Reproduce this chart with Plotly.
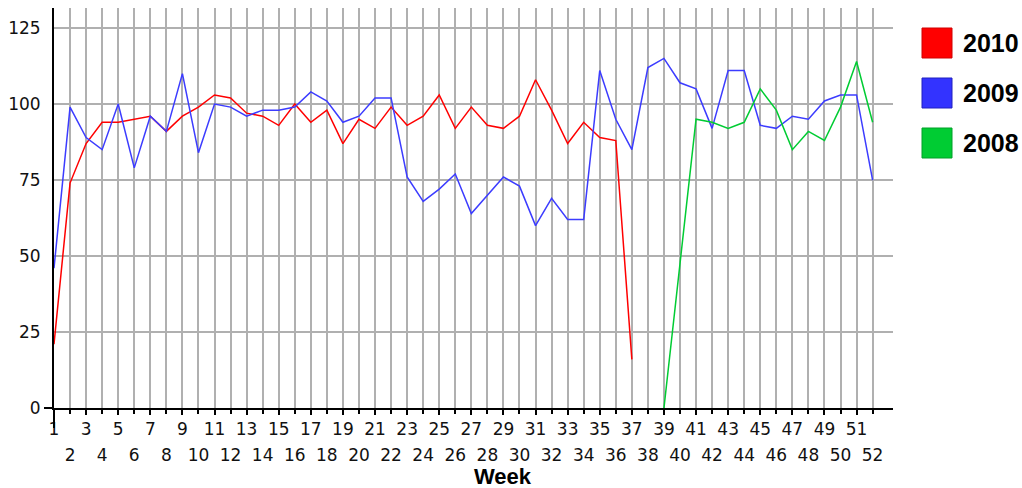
import plotly.graph_objects as go

weeks = list(range(1, 53))

sales_2010 = [21, 74, 87, 94, 94, 95, 96, 91, 96, 99, 103, 102, 97, 96, 93, 100, 94, 98,
              87, 95, 92, 99, 93, 96, 103, 92, 99, 93, 92, 96, 108, 98, 87, 94, 89, 88, 16] + [None] * 15

sales_2009 = [46, 99, 89, 85, 100, 79, 96, 91, 110, 84, 100, 99, 96, 98, 98, 99, 104, 101,
              94, 96, 102, 102, 76, 68, 72, 77, 64, 70, 76, 73, 60, 69, 62, 62, 111, 95, 85,
              112, 115, 107, 105, 92, 111, 111, 93, 92, 96, 95, 101, 103, 103, 75]

sales_2008 = [None] * 38 + [0, 48, 95, 94, 92, 94, 105, 98, 85, 91, 88, 99, 114, 94]

series_names = ["2010", "2009", "2008"]
series_colors = ["#FF0000", "#3C3CFF", "#00CC33"]
legend_colors = ["#FF0000", "#3333FF", "#00CC33"]
legend_borders = ["#D00000", "#2020C0", "#00A028"]

y_ticks = [0, 25, 50, 75, 100, 125]
odd_weeks = [w for w in weeks if w % 2 == 1]
even_weeks = [w for w in weeks if w % 2 == 0]

W_FIG, H_FIG = 1022, 488
PLOT_L, PLOT_R, PLOT_T, PLOT_B = 54, 893, 8, 408   # window pixels
L, T = PLOT_L, PLOT_T
R = W_FIG - PLOT_R
B = H_FIG - PLOT_B
PW = PLOT_R - PLOT_L
PH = PLOT_B - PLOT_T


def px(xpix):
    return (xpix - PLOT_L) / PW


def py(ypix):
    return (PLOT_B - ypix) / PH


X_RANGE = [1, 53.27]
Y_RANGE = [0, 131.6]
GRID = "#B0B0B0"
TICKFONT = dict(family="DejaVu Sans", size=17, color="#111111")

fig = go.Figure()
for name, vals, col in zip(series_names, [sales_2010, sales_2009, sales_2008], series_colors):
    fig.add_trace(go.Scatter(x=weeks, y=vals, name=name, mode="lines",
                             line=dict(color=col, width=1.5), connectgaps=False,
                             showlegend=False))

# invisible trace to activate the second (even-week) x axis
fig.add_trace(go.Scatter(x=[weeks[0]], y=[None], xaxis="x2", showlegend=False,
                         hoverinfo="skip", mode="lines"))

fig.update_layout(
    width=W_FIG, height=H_FIG,
    margin=dict(l=L, r=R, t=T, b=B, autoexpand=False),
    paper_bgcolor="white", plot_bgcolor="white",
    showlegend=False,
    xaxis=dict(range=X_RANGE, tickmode="array", tickvals=odd_weeks,
               ticktext=[str(w) for w in odd_weeks],
               showgrid=True, gridcolor=GRID, gridwidth=2,
               showline=True, linecolor="black", linewidth=2,
               ticks="outside", ticklen=5, tickcolor="black", tickwidth=2,
               tickfont=TICKFONT, zeroline=False, ticklabelstandoff=0,
               automargin=False),
    xaxis2=dict(range=X_RANGE, overlaying="x", anchor="y", side="bottom",
                tickmode="array", tickvals=even_weeks,
                ticktext=[str(w) for w in even_weeks],
                showgrid=True, gridcolor=GRID, gridwidth=2,
                showline=False, ticks="outside", ticklen=5, tickcolor="black", tickwidth=2,
                tickfont=TICKFONT, zeroline=False, ticklabelstandoff=27,
                automargin=False),
    yaxis=dict(range=Y_RANGE, tickmode="array", tickvals=y_ticks,
               ticktext=[str(v) for v in y_ticks],
               showgrid=True, gridcolor=GRID, gridwidth=2,
               showline=True, linecolor="black", linewidth=2,
               ticks="", tickfont=TICKFONT, zeroline=False, ticklabelstandoff=8,
               automargin=False),
)

# small axis-line overshoots seen in the reference
fig.add_shape(type="line", xref="paper", yref="paper", x0=px(44), x1=px(54),
              y0=0, y1=0, line=dict(color="black", width=2))
fig.add_shape(type="line", xref="paper", yref="paper", x0=0, x1=0,
              y0=py(428), y1=0, line=dict(color="black", width=2))

# x-axis title
fig.add_annotation(text="<b>Week</b>", xref="paper", yref="paper",
                   x=px(503), y=py(476), xanchor="center", yanchor="middle",
                   showarrow=False,
                   font=dict(family="Liberation Sans, Arial", size=22, color="black"))

# manual legend with large square keys
for i, (name, col, bcol) in enumerate(zip(series_names, legend_colors, legend_borders)):
    top = 28 + 50 * i
    fig.add_shape(type="rect", xref="paper", yref="paper",
                  x0=px(922), x1=px(952), y0=py(top + 30), y1=py(top),
                  fillcolor=col, line=dict(color=bcol, width=1))
    fig.add_annotation(text="<b>" + name + "</b>", xref="paper", yref="paper",
                       x=px(961), y=py(top + 15), xanchor="left", yanchor="middle",
                       showarrow=False,
                       font=dict(family="Liberation Sans, Arial", size=25, color="black"))

fig.write_html("out.html", config={"displayModeBar": False},
               post_script="document.body.style.margin='0';document.body.style.overflow='hidden';")
